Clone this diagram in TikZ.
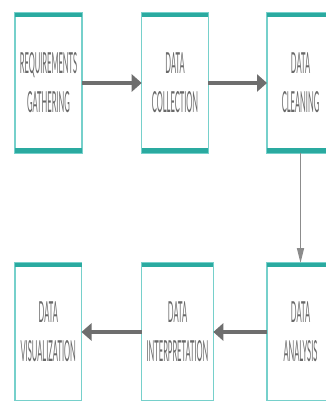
\documentclass[tikz,border=0pt]{standalone}
\usepackage{fontspec}
\usetikzlibrary{arrows.meta}
\newfontfamily\boxfont[FakeStretch=0.26]{Lato}
\definecolor{sidecol}{RGB}{118,208,203}
\definecolor{barcol}{RGB}{42,170,160}
\definecolor{txtcol}{RGB}{105,105,105}
\definecolor{harcol}{RGB}{110,110,110}
\definecolor{varcol}{RGB}{140,140,140}
\tikzset{
  stagebox/.style={draw=sidecol, line width=1.2pt, inner sep=0pt, outer sep=0pt,
    minimum width=#1, align=center, text=txtcol,
    font=\boxfont\fontsize{29}{39}\selectfont},
  toprow/.style={minimum height=140pt},
  botrow/.style={minimum height=138pt},
  bar/.style={draw=barcol, line width=4.5pt},
  harrow/.style={draw=harcol, line width=4pt, -{Triangle[length=10pt,width=17pt]}},
  varrow/.style={draw=varcol, line width=1.6pt, -{Triangle[length=15pt,width=7pt]}}
}
\begin{document}
\begin{tikzpicture}[x=1pt,y=-1pt]
\useasboundingbox (0,0) rectangle (325,401);
\fill[white] (0,0) rectangle (325,401);
% top row
\node[stagebox=67pt, toprow] (b1) at (48.5,83) {REQUIREMENTS\\GATHERING};
\node[stagebox=66.6pt, toprow] (b2) at (175,83) {DATA\\COLLECTION};
\node[stagebox=67pt, toprow] (b3) at (300.5,83) {DATA\\CLEANING};
% bottom row
\node[stagebox=66.5pt, botrow] (b4) at (48.25,332) {DATA\\VISUALIZATION};
\node[stagebox=71.6pt, botrow] (b5) at (177.5,332) {DATA\\INTERPRETATION};
\node[stagebox=67pt, botrow] (b6) at (300.5,332) {DATA\\ANALYSIS};
% bars
\foreach \b in {b1,b2,b3}{
  \draw[bar] ([yshift=-2.2pt]\b.north west) -- ([yshift=-2.2pt]\b.north east);
  \draw[bar] ([yshift=2.4pt]\b.south west) -- ([yshift=2.4pt]\b.south east);
}
\foreach \b in {b4,b5,b6}{
  \draw[bar] ([yshift=-2.2pt]\b.north west) -- ([yshift=-2.2pt]\b.north east);
}
% connectors
\draw[harrow] (b1.east) -- (b2.west);
\draw[harrow] (b2.east) -- (b3.west);
\draw[varrow] (b3.south) -- (b6.north);
\draw[harrow] (b6.west) -- (b5.east);
\draw[harrow] (b5.west) -- (b4.east);
\end{tikzpicture}
\end{document}
